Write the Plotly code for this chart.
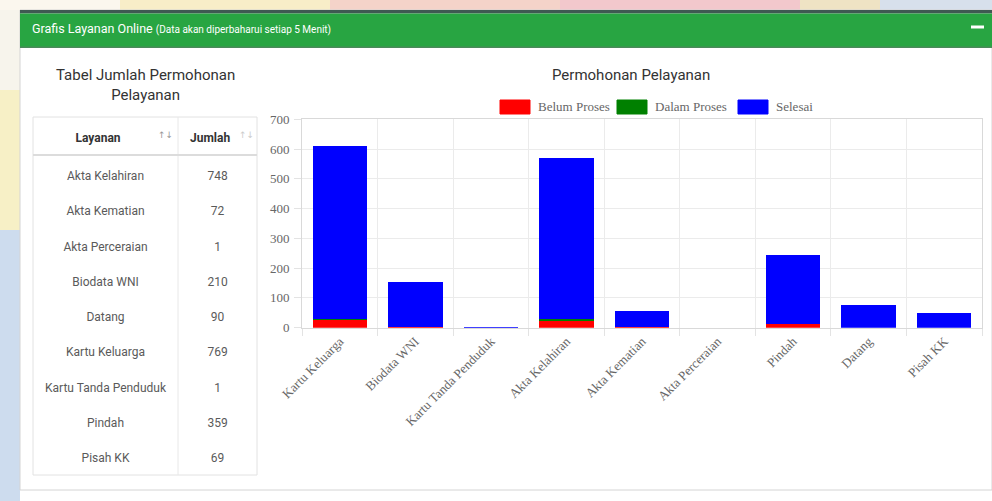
import plotly.graph_objects as go

W, H = 992, 501

# ---------------- data ----------------
categories = ["Kartu Keluarga", "Biodata WNI", "Kartu Tanda Penduduk", "Akta Kelahiran",
              "Akta Kematian", "Akta Perceraian", "Pindah", "Datang", "Pisah KK"]
belum_proses = [25, 1, 0, 22, 3, 0, 12, 0, 0]
dalam_proses = [3, 0, 0, 8, 0, 0, 2, 0, 0]
selesai = [584, 154, 1, 539, 54, 0, 230, 76, 48]
series_names = ["Belum Proses", "Dalam Proses", "Selesai"]
series_colors = ["rgb(255,0,0)", "rgb(0,128,0)", "rgb(0,0,255)"]

layanan = ["Akta Kelahiran", "Akta Kematian", "Akta Perceraian", "Biodata WNI", "Datang",
           "Kartu Keluarga", "Kartu Tanda Penduduk", "Pindah", "Pisah KK"]
jumlah = [748, 72, 1, 210, 90, 769, 1, 359, 69]
table_headers = ["Layanan", "Jumlah"]
y_ticks = [0, 100, 200, 300, 400, 500, 600, 700]


def px(x):
    return x / W


def py(y):
    return 1 - y / H


SANS = "Roboto, 'Open Sans', sans-serif"
SERIF = "'Liberation Serif', 'DejaVu Serif', serif"
NB = "\u00a0"

fig = go.Figure()

for name, vals, col in zip(series_names, [belum_proses, dalam_proses, selesai], series_colors):
    fig.add_trace(go.Bar(x=categories, y=vals, name=name, marker_color=col,
                         marker_line_width=0, showlegend=False))

fig.add_trace(go.Table(
    domain=dict(x=[px(33), px(257)], y=[py(482), py(123)]),
    columnwidth=[145, 79],
    header=dict(values=["<b>" + h + "</b>" + NB * 5 for h in table_headers],
                align="center", height=40,
                font=dict(family=SANS, size=12, color="#333"),
                fill_color="rgba(0,0,0,0)", line_color="rgba(0,0,0,0)"),
    cells=dict(values=[layanan, jumlah], align="center", height=35.25,
               font=dict(family=SANS, size=12, color="#5a5a5a"),
               fill_color="rgba(0,0,0,0)", line_color="rgba(0,0,0,0)"),
))

shapes = []
# page background pieces
shapes.append(dict(type="rect", xref="paper", yref="paper", x0=0, x1=1, y0=0, y1=1,
                   fillcolor="#ffffff", line_width=0, layer="below"))
for x0, x1, c in [(0, 120, "#fbf7ee"), (120, 330, "#f8edc8"), (330, 560, "#f4d3c9"),
                  (560, 800, "#f2c8cc"), (800, 880, "#efe3c4"), (880, 992, "#d7e0ec")]:
    shapes.append(dict(type="rect", xref="paper", yref="paper", x0=px(x0), x1=px(x1),
                       y0=py(10), y1=py(0), fillcolor=c, line_width=0, layer="below"))
for y0, y1, c in [(10, 90, "#f7f4ec"), (90, 230, "#f7f0c6"), (230, 501, "#cddcee")]:
    shapes.append(dict(type="rect", xref="paper", yref="paper", x0=0, x1=px(20),
                       y0=py(y1), y1=py(y0), fillcolor=c, line_width=0, layer="below"))
# card
shapes.append(dict(type="rect", xref="paper", yref="paper", x0=px(20), x1=px(992),
                   y0=py(490), y1=py(10), fillcolor="#ffffff",
                   line=dict(color="#d4d4d4", width=1), layer="below"))
shapes.append(dict(type="rect", xref="paper", yref="paper", x0=px(20), x1=px(992),
                   y0=py(13.5), y1=py(10), fillcolor="#3f5a52", line_width=0, layer="below"))
shapes.append(dict(type="rect", xref="paper", yref="paper", x0=px(20), x1=px(992),
                   y0=py(47), y1=py(13.5), fillcolor="#28a542", line_width=0, layer="below"))
shapes.append(dict(type="rect", xref="paper", yref="paper", x0=px(20), x1=px(992),
                   y0=py(48), y1=py(46.5), fillcolor="#4a8a5a", line_width=0, layer="below"))
shapes.append(dict(type="rect", xref="paper", yref="paper", x0=px(971), x1=px(984),
                   y0=py(28.5), y1=py(25.5), fillcolor="#ffffff", line_width=0, layer="below"))
# table borders
shapes.append(dict(type="rect", xref="paper", yref="paper", x0=px(33), x1=px(257),
                   y0=py(475), y1=py(117), fillcolor="rgba(0,0,0,0)",
                   line=dict(color="#e2e2e2", width=1), layer="below"))
shapes.append(dict(type="line", xref="paper", yref="paper", x0=px(178), x1=px(178),
                   y0=py(475), y1=py(117), line=dict(color="#e8e8e8", width=1), layer="below"))
shapes.append(dict(type="line", xref="paper", yref="paper", x0=px(33), x1=px(257),
                   y0=py(155), y1=py(155), line=dict(color="#dcdcdc", width=2), layer="below"))

annotations = []
annotations.append(dict(xref="paper", yref="paper", x=px(30), y=py(28), xanchor="left",
                        yanchor="middle", showarrow=False,
                        text="Grafis Layanan Online <span style='font-size:10px'>(Data akan diperbaharui setiap 5 Menit)</span>",
                        font=dict(family=SANS, size=12.5, color="#ffffff")))
annotations.append(dict(xref="paper", yref="paper", x=px(145), y=py(85), xanchor="center",
                        yanchor="middle", showarrow=False,
                        text="Tabel Jumlah Permohonan<br>Pelayanan",
                        font=dict(family=SANS, size=15, color="#333")))
annotations.append(dict(xref="paper", yref="paper", x=px(631), y=py(75), xanchor="center",
                        yanchor="middle", showarrow=False, text="Permohonan Pelayanan",
                        font=dict(family=SANS, size=15, color="#333")))
for xi, col in [(165, "#999"), (246, "#ccc")]:
    annotations.append(dict(xref="paper", yref="paper", x=px(xi), y=py(135), xanchor="center",
                            yanchor="middle", showarrow=False, text="↑↓",
                            font=dict(family="DejaVu Sans", size=9, color=col)))

# manual legend (Chart.js-style wide boxes)
leg_box_x = [500, 617, 738]
for bx, name, col in zip(leg_box_x, series_names, series_colors):
    shapes.append(dict(type="rect", xref="paper", yref="paper", x0=px(bx), x1=px(bx + 30),
                       y0=py(114), y1=py(100), fillcolor=col,
                       line=dict(color=col, width=1)))
    annotations.append(dict(xref="paper", yref="paper", x=px(bx + 36), y=py(107),
                            xanchor="left", yanchor="middle", showarrow=False, text=name,
                            font=dict(family=SERIF, size=13, color="#666")))

fig.update_layout(
    width=W, height=H, margin=dict(l=0, r=0, t=0, b=0, autoexpand=False),
    paper_bgcolor="#ffffff", plot_bgcolor="rgba(0,0,0,0)",
    barmode="stack", bargap=0.28, showlegend=False,
    shapes=shapes, annotations=annotations,
    xaxis=dict(domain=[px(302), px(982)], type="category", tickson="boundaries",
               automargin=False,
               showgrid=True, gridcolor="#ebebeb", gridwidth=1,
               showline=True, linecolor="#d9d9d9", mirror=True,
               ticks="outside", ticklen=7, tickcolor="#e3e3e3",
               tickangle=-45, tickfont=dict(family=SERIF, size=13, color="#666"),
               fixedrange=True),
    yaxis=dict(domain=[py(327.7), py(119.3)], range=[0, 700], tickvals=y_ticks,
               automargin=False,
               showgrid=True, gridcolor="#ebebeb", gridwidth=1, zeroline=False,
               showline=True, linecolor="#d9d9d9", mirror=True,
               ticks="outside", ticklen=7, tickcolor="#e3e3e3", ticklabelstandoff=2,
               tickfont=dict(family=SERIF, size=13, color="#666"), fixedrange=True),
)

fig.write_html("out.html")
